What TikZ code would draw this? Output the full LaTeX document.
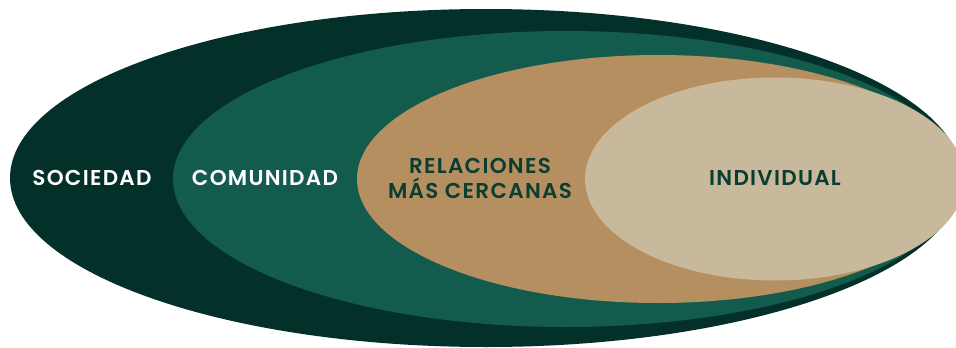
\documentclass[tikz,border=0pt]{standalone}
\usepackage{fontspec}
\setmainfont{Poppins}[BoldFont={Poppins SemiBold}, LetterSpace=6]
\begin{document}
\begin{tikzpicture}[x=1pt,y=-1pt,
  lab/.style={font=\fontsize{21.5}{25}\selectfont\bfseries, align=center, inner sep=0pt},
  labw/.style={lab, text=white},
  labd/.style={lab, text=dgreen}]
\definecolor{dark}{HTML}{04302A}
\definecolor{teal}{HTML}{135C4D}
\definecolor{tan}{HTML}{B68F60}
\definecolor{beige}{HTML}{C8B89C}
\definecolor{dgreen}{HTML}{0B3D31}
\useasboundingbox (0,0) rectangle (956,348);
\clip (0,0) rectangle (956,348);
\fill[dark] (486,178) ellipse [x radius=476, y radius=169];
\fill[teal] (566,179) ellipse [x radius=393, y radius=148];
\fill[tan] (658,179) ellipse [x radius=301, y radius=124];
\fill[beige] (775,179) ellipse [x radius=190, y radius=101.5];
\node[labw] (soc) at (92,178) {SOCIEDAD};
\node[labw] (com) at (265,178) {COMUNIDAD};
\node[labd] (rel) at (480,178) {RELACIONES\\MÁS CERCANAS};
\node[labd] (ind) at (775,178) {INDIVIDUAL};
\end{tikzpicture}
\end{document}
